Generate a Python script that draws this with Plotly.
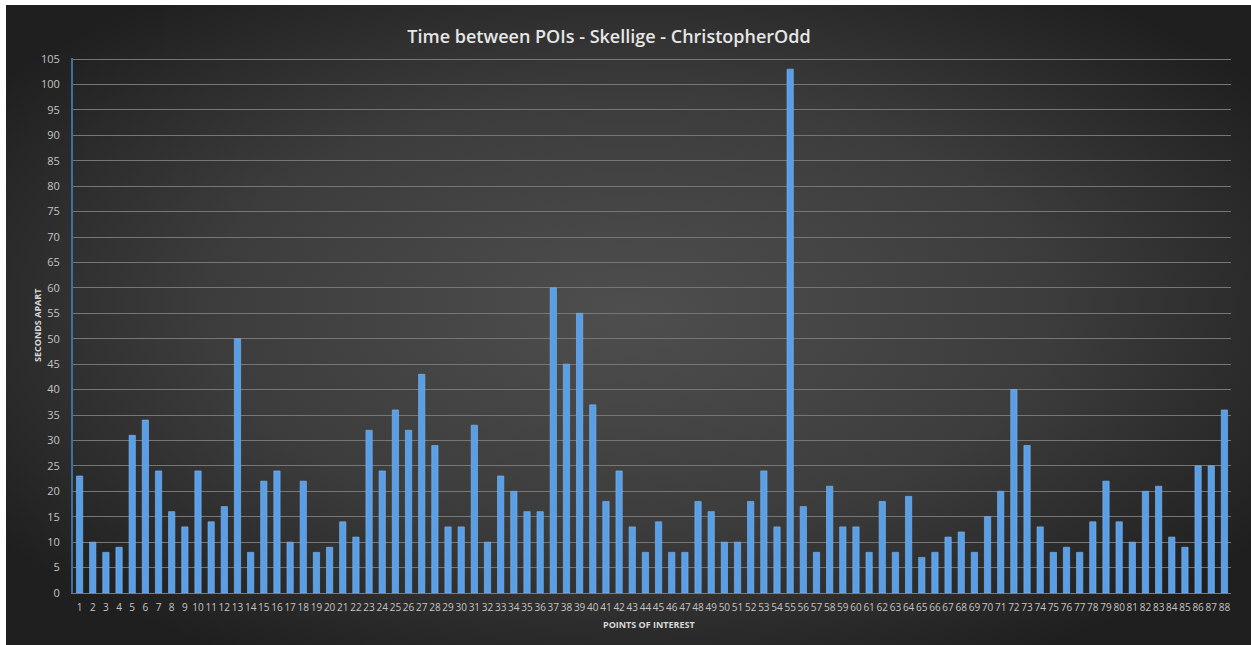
import base64
import plotly.graph_objects as go

# Seconds between consecutive points of interest (Skellige run)
poi = list(range(1, 89))
seconds_apart = [
    23, 10, 8, 9, 31, 34, 24, 16, 13, 24,
    14, 17, 50, 8, 22, 24, 10, 22, 8, 9,
    14, 11, 32, 24, 36, 32, 43, 29, 13, 13,
    33, 10, 23, 20, 16, 16, 60, 45, 55, 37,
    18, 24, 13, 8, 14, 8, 8, 18, 16, 10,
    10, 18, 24, 13, 103, 17, 8, 21, 13, 13,
    8, 18, 8, 19, 7, 8, 11, 12, 8, 15,
    20, 40, 29, 13, 8, 9, 8, 14, 22, 14,
    10, 20, 21, 11, 9, 25, 25, 36,
]
y_ticks = list(range(0, 106, 5))

W, H = 1251, 645
L, R, T, B = 73, 20, 58, 52
pw, ph = W - L - R, H - T - B

# dark radial backdrop as an inline SVG
svg = (
    '<svg xmlns="http://www.w3.org/2000/svg" width="1245" height="640" '
    'viewBox="0 0 100 100" preserveAspectRatio="none">'
    '<defs><radialGradient id="g" cx="50%" cy="48%" r="62%">'
    '<stop offset="0%" stop-color="#4e4e4e"/>'
    '<stop offset="55%" stop-color="#3c3c3c"/>'
    '<stop offset="100%" stop-color="#1f1f1f"/>'
    '</radialGradient></defs>'
    '<rect x="0" y="0" width="100" height="100" fill="url(#g)"/></svg>'
)
bg_src = "data:image/svg+xml;base64," + base64.b64encode(svg.encode()).decode()

bg_left, bg_top, bg_right, bg_bottom = 6, 5, W, H

fig = go.Figure()
fig.add_trace(go.Bar(
    x=poi,
    y=seconds_apart,
    marker=dict(color="#5a9fe6", line=dict(color="#7db8f0", width=0.6)),
    width=0.48,
    hoverinfo="x+y",
))

fig.update_layout(
    width=W,
    height=H,
    margin=dict(l=L, r=R, t=T, b=B, pad=0),
    paper_bgcolor="white",
    plot_bgcolor="rgba(0,0,0,0)",
    showlegend=False,
    font=dict(family="Open Sans, Liberation Sans, sans-serif", color="#c4c4c4"),
    title=dict(
        text="Time between POIs - Skellige - ChristopherOdd",
        font=dict(size=18, color="#e6e6e6", family="Open Sans, sans-serif", weight=600),
        x=609 / W, xref="container", xanchor="center",
        y=1 - 37 / H, yref="container", yanchor="middle",
    ),
    images=[dict(
        source=bg_src,
        xref="paper", yref="paper",
        x=(bg_left - L) / pw, y=1 + (T - bg_top) / ph,
        sizex=(bg_right - bg_left) / pw, sizey=(bg_bottom - bg_top) / ph,
        xanchor="left", yanchor="top",
        sizing="stretch", layer="below",
    )],
    xaxis=dict(
        tickmode="array",
        tickvals=poi,
        ticktext=[str(p) for p in poi],
        range=[0.5, 88.5],
        tickangle=0,
        tickfont=dict(size=10, color="#c4c4c4", family="Open Sans, sans-serif"),
        showgrid=False,
        showline=True,
        linecolor="#7a7a7a",
        linewidth=1,
        ticks="",
        ticklabelstandoff=5,
        zeroline=False,
    ),
    yaxis=dict(
        range=[0, 105.2],
        tickmode="array",
        tickvals=y_ticks,
        tickfont=dict(size=11, color="#c4c4c4", family="Open Sans, sans-serif"),
        showgrid=True,
        gridcolor="#767676",
        gridwidth=1.4,
        showline=True,
        linecolor="#41709f",
        linewidth=2,
        ticks="",
        ticklabelstandoff=9,
        zeroline=False,
    ),
    annotations=[
        dict(
            text="<b>SECONDS APART</b>",
            xref="paper", yref="paper",
            x=(37 - L) / pw, y=(593 - 325) / ph,
            xanchor="center", yanchor="middle",
            textangle=-90, showarrow=False,
            font=dict(size=9, color="#d8d8d8", family="Open Sans, sans-serif"),
        ),
        dict(
            text="<b>POINTS OF INTEREST</b>",
            xref="paper", yref="paper",
            x=(649 - L) / pw, y=(593 - 624) / ph,
            xanchor="center", yanchor="middle",
            showarrow=False,
            font=dict(size=9, color="#d8d8d8", family="Open Sans, sans-serif"),
        ),
    ],
)

fig.write_html("out.html")
